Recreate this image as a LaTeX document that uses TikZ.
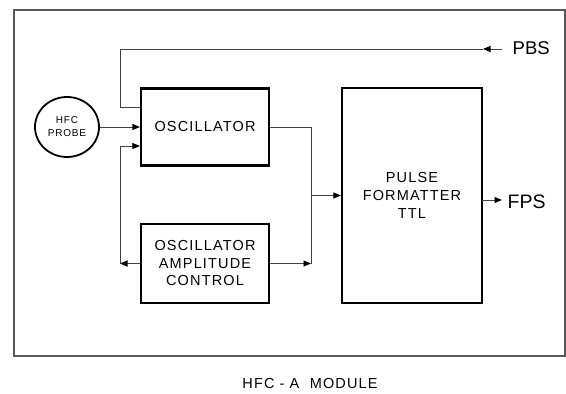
\documentclass[tikz,border=0pt]{standalone}
\usepackage{fontspec}
\setmainfont{Liberation Sans}
\newfontfamily\spaced[LetterSpace=8]{Liberation Sans}
\usetikzlibrary{arrows.meta,calc,shapes.geometric}
\begin{document}
\begin{tikzpicture}[x=1pt,y=-1pt,
  frame/.style={draw=black!65,line width=1.3pt},
  blk/.style={draw=black,line width=2.2pt,inner sep=0pt,align=center,
    font=\spaced\fontsize{14.5}{17.5}\selectfont},
  probe/.style={draw=black,ellipse,line width=1.8pt,inner sep=0pt,align=center,
    minimum width=64pt,minimum height=60pt,font=\spaced\fontsize{10}{13}\selectfont},
  conn/.style={draw=black!75,line width=0.9pt},
  arr/.style={conn,-{Triangle[length=7.5pt,width=6pt,fill=black,color=black]}},
  sig/.style={inner sep=0pt,anchor=west}]
\useasboundingbox (0,0) rectangle (566,394);
\draw[frame] (14,10) rectangle (565,356);

\node[blk,minimum width=128pt,minimum height=77pt] (osc) at (205,127) {OSCILLATOR};
\node[blk,minimum width=128pt,minimum height=79pt] (amp) at (205,263.5) {OSCILLATOR\\AMPLITUDE\\CONTROL};
\node[blk,minimum width=140pt,minimum height=215pt,font=\spaced\fontsize{14.5}{18}\selectfont] (pulse) at (412,195.5) {PULSE\\FORMATTER\\TTL};
\node[probe] (hfc) at (67,127) {HFC\\PROBE};

\node[sig,font=\fontsize{18.5}{20}\selectfont] (pbs) at (512.5,48.5) {PBS};
\node[sig,font=\fontsize{19.5}{21}\selectfont] (fps) at (507.5,202) {FPS};
\node[inner sep=0pt,font=\spaced\fontsize{14.5}{17}\selectfont] (cap) at (310,384) {HFC - A\ \ MODULE};

% PBS feedback line
\coordinate (pbsA) at (502,49);
\coordinate (pbsTip) at (483,49);
\coordinate (pbsC1) at (120,49);
\coordinate (pbsC2) at (120,107);
\draw[arr] (pbsA) -- (pbsTip);
\draw[conn] (pbsTip) -- (pbsC1) -- (pbsC2) -- (osc.west |- pbsC2);

% probe to oscillator
\draw[arr] (hfc.east) -- (osc.west);

% amplitude control loop
\coordinate (ampL) at (120,263.5);
\coordinate (loopT) at (120,146);
\draw[arr] (amp.west) -- (ampL);
\draw[arr] (ampL) -- (loopT) -- (osc.west |- loopT);

% right side merge
\coordinate (mx1) at (311,127);
\coordinate (mx2) at (311,263.5);
\coordinate (junc) at (311,195.5);
\draw[conn] (osc.east) -- (mx1) -- (mx2);
\draw[arr] (amp.east) -- (mx2);
\draw[arr] (junc) -- (pulse.west);

% FPS output
\coordinate (fpsS) at (482,200);
\coordinate (fpsT) at (502,200);
\draw[arr] (fpsS) -- (fpsT);
\end{tikzpicture}
\end{document}
